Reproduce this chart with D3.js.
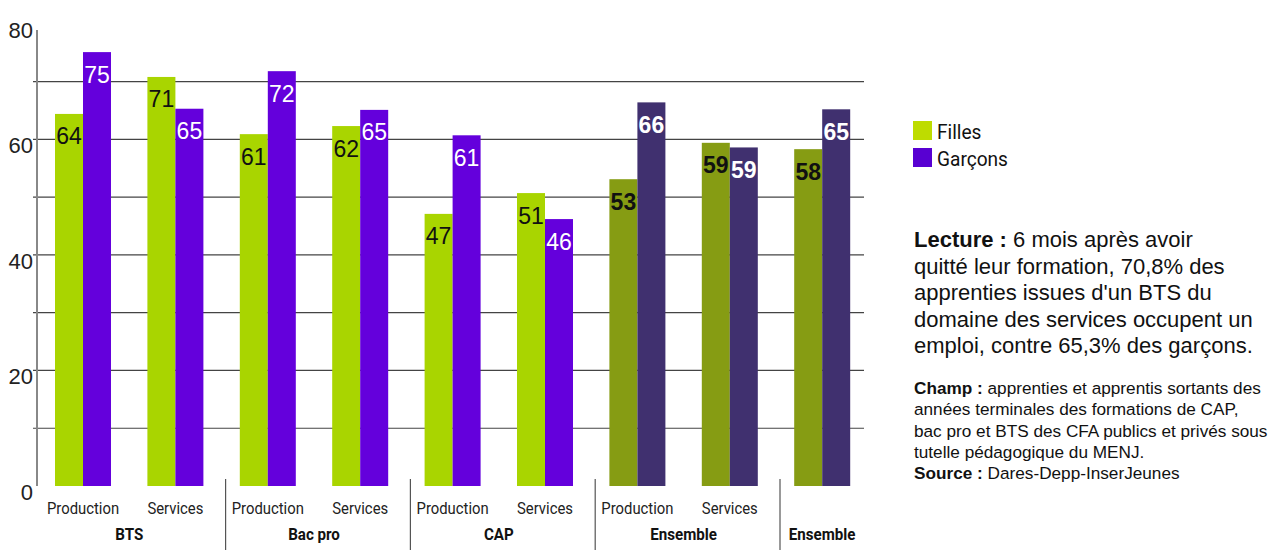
<!DOCTYPE html>
<html>
<head>
<meta charset="utf-8">
<script src="https://cdn.jsdelivr.net/npm/d3@7"></script>
<style>
    body { margin: 0; background: #fff; }
    .narrow { font-family: "Roboto", sans-serif; }
</style>
</head>
<body>
<div id="chart"></div>
<script>
const slotLabels = ['Production', 'Services', 'Production', 'Services', 'Production', 'Services', 'Production', 'Services', '']
const slotGroup = [0, 0, 1, 1, 2, 2, 3, 3, 4]
const groupLabels = ['BTS', 'Bac pro', 'CAP', 'Ensemble', 'Ensemble']

const filles = [64.4, 70.8, 60.9, 62.3, 47.1, 50.7, 53.1, 59.4, 58.3]
const garcons = [75.1, 65.3, 71.8, 65.1, 60.7, 46.2, 66.4, 58.6, 65.2]
const fillesLabels = [64, 71, 61, 62, 47, 51, 53, 59, 58]
const garconsLabels = [75, 65, 72, 65, 61, 46, 66, 59, 65]

const yTicks = [0, 20, 40, 60, 80]
const gridTicks = [10, 20, 30, 40, 50, 60, 70]

const series = ['Filles', 'Garçons']
const legendLabels = ['Filles', 'Garçons']

const lectureLines = [
    ['Lecture :', ' 6 mois après avoir'],
    ['', 'quitté leur formation, 70,8% des'],
    ['', "apprenties issues d'un BTS du"],
    ['', 'domaine des services occupent un'],
    ['', 'emploi, contre 65,3% des garçons.']
]
const champLines = [
    ['Champ :', ' apprenties et apprentis sortants des'],
    ['', 'années terminales des formations de CAP,'],
    ['', 'bac pro et BTS des CFA publics et privés sous'],
    ['', 'tutelle pédagogique du MENJ.'],
    ['Source :', ' Dares-Depp-InserJeunes']
]

const colors = { Filles: '#a9d500', 'Garçons': '#6400dc' }
const colorsTotal = { Filles: '#869c13', 'Garçons': '#40306f' }
const legendColors = ['#bedc00', '#5800d2']

const width = 1272
const height = 550

const svg = d3.select('#chart')
    .append('svg')
    .attr('width', width)
    .attr('height', height)

const y = d3.scaleLinear()
    .domain([0, 80])
    .range([486, 23.8])

const x = d3.scaleBand()
    .domain(d3.range(slotLabels.length))
    .range([36.8, 868.4])

const xs = d3.scaleBand()
    .domain(series)
    .range([18.2, 74.2])

// condensed look: squeeze roboto horizontally
const squeeze = (px, py, k) => `translate(${px},${py}) scale(${k},1)`

// gridlines
svg.append('g')
    .selectAll('line')
    .data(gridTicks)
    .join('line')
    .attr('x1', 33)
    .attr('x2', 864)
    .attr('y1', d => y(d))
    .attr('y2', d => y(d))
    .attr('stroke', '#444')
    .attr('stroke-width', 1.2)

// y axis line
svg.append('line')
    .attr('x1', 37).attr('x2', 37)
    .attr('y1', 30).attr('y2', y(0))
    .attr('stroke', '#888')
    .attr('stroke-width', 2)

svg.append('g')
    .selectAll('text')
    .data(yTicks)
    .join('text')
    .attr('x', 33)
    .attr('y', d => y(d) + 14)
    .attr('text-anchor', 'end')
    .attr('font-family', 'Liberation Sans, Arial, sans-serif')
    .attr('font-size', '22px')
    .attr('fill', '#222')
    .text(d => d)

// bars
const rows = []
slotLabels.forEach((s, i) => {
    rows.push({ i: i, key: 'Filles', value: filles[i], label: fillesLabels[i] })
    rows.push({ i: i, key: 'Garçons', value: garcons[i], label: garconsLabels[i] })
})
const isTotal = i => groupLabels[slotGroup[i]] === 'Ensemble'

svg.append('g')
    .selectAll('rect')
    .data(rows)
    .join('rect')
    .attr('x', d => x(d.i) + xs(d.key))
    .attr('y', d => y(d.value))
    .attr('width', xs.bandwidth())
    .attr('height', d => y(0) - y(d.value))
    .attr('fill', d => isTotal(d.i) ? colorsTotal[d.key] : colors[d.key])

svg.append('g')
    .selectAll('text')
    .data(rows)
    .join('text')
    .attr('x', d => x(d.i) + xs(d.key) + xs.bandwidth() / 2)
    .attr('y', d => y(d.value) + 30.5)
    .attr('text-anchor', 'middle')
    .attr('font-family', 'Liberation Sans, Arial, sans-serif')
    .attr('font-size', '23px')
    .attr('font-weight', d => isTotal(d.i) ? 'bold' : 'normal')
    .attr('fill', d => d.key === 'Filles' ? '#111' : '#fff')
    .text(d => d.label)

// x labels
svg.append('g')
    .selectAll('text')
    .data(slotLabels)
    .join('text')
    .attr('class', 'narrow')
    .attr('transform', (d, i) => squeeze(x(i) + x.bandwidth() / 2, 514, 0.9))
    .attr('text-anchor', 'middle')
    .attr('font-size', '16.5px')
    .attr('fill', '#222')
    .text(d => d)

svg.append('g')
    .selectAll('text')
    .data(groupLabels)
    .join('text')
    .attr('class', 'narrow')
    .attr('transform', (d, g) => {
        const idx = slotGroup.map((v, i) => v === g ? i : -1).filter(i => i >= 0)
        return squeeze(d3.mean(idx, i => x(i) + x.bandwidth() / 2), 540, 0.89)
    })
    .attr('text-anchor', 'middle')
    .attr('font-size', '17px')
    .attr('font-weight', 'bold')
    .attr('fill', '#111')
    .text(d => d)

// group separators
const bounds = d3.range(1, slotGroup.length).filter(i => slotGroup[i] !== slotGroup[i - 1])
svg.append('g')
    .selectAll('line')
    .data(bounds)
    .join('line')
    .attr('x1', i => x(i) + 4)
    .attr('x2', i => x(i) + 4)
    .attr('y1', 479)
    .attr('y2', 550)
    .attr('stroke', '#555')
    .attr('stroke-width', 1.2)

// legend
const legend = svg.append('g')
legend.selectAll('rect')
    .data(legendLabels)
    .join('rect')
    .attr('x', 913)
    .attr('y', (d, i) => 121 + i * 27)
    .attr('width', 19)
    .attr('height', 19)
    .attr('fill', (d, i) => legendColors[i])
legend.selectAll('text')
    .data(legendLabels)
    .join('text')
    .attr('class', 'narrow')
    .attr('transform', (d, i) => squeeze(937, 139 + i * 27, 0.91))
    .attr('font-size', '21px')
    .attr('fill', '#111')
    .text(d => d)

// notes
function writeLines(lines, top, step, size) {
    const t = svg.append('text')
        .attr('font-family', 'Liberation Sans, Arial, sans-serif')
        .attr('font-size', size)
        .attr('fill', '#111')
    lines.forEach((l, i) => {
        const line = t.append('tspan').attr('x', 914).attr('y', top + i * step)
        if (l[0]) line.append('tspan').attr('font-weight', 'bold').text(l[0])
        line.append('tspan').text(l[1])
    })
}
writeLines(lectureLines, 247, 26.5, '22px')
writeLines(champLines, 394, 21.3, '17.2px')
</script>
</body>
</html>
